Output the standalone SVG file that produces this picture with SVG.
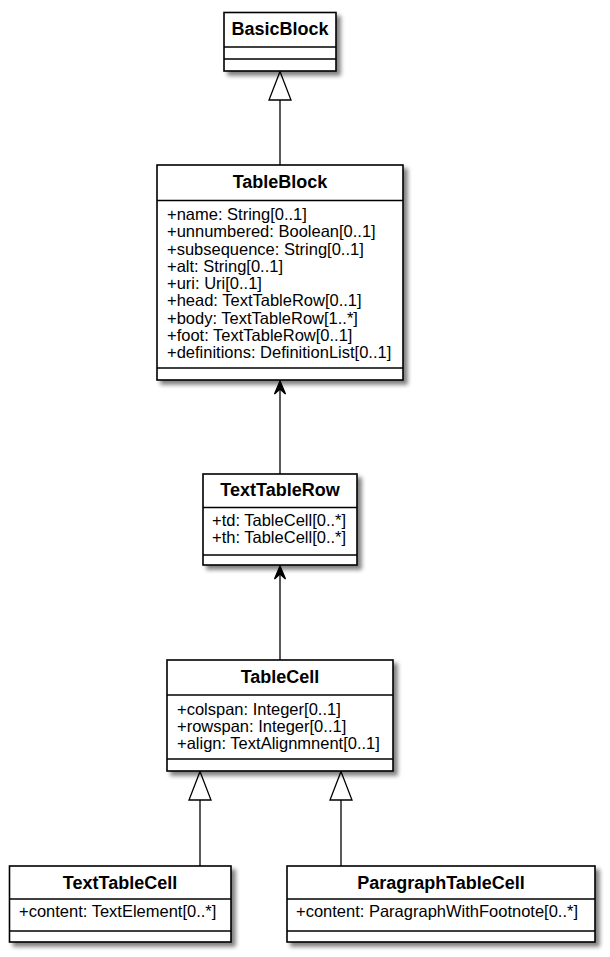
<svg xmlns="http://www.w3.org/2000/svg" width="610" height="957" viewBox="0 0 610 957">
<defs>
<filter id="sh" x="-10%" y="-10%" width="130%" height="130%">
<feGaussianBlur in="SourceAlpha" stdDeviation="2"/>
<feOffset dx="4" dy="4" result="b"/>
<feComponentTransfer in="b" result="c"><feFuncA type="linear" slope="0.5"/></feComponentTransfer>
<feMerge><feMergeNode in="c"/><feMergeNode in="SourceGraphic"/></feMerge>
</filter>
</defs>
<style>
.box{fill:#fff;stroke:#000;stroke-width:1.6;filter:url(#sh)}
.sep{stroke:#000;stroke-width:1.6}
.nm{font-family:"Liberation Sans",Arial,sans-serif;font-weight:bold;font-size:18px;text-anchor:middle;fill:#000}
.at{font-family:"Liberation Sans",Arial,sans-serif;font-size:16.5px;fill:#000}
.ln{stroke:#000;stroke-width:1.3;fill:none}
.tri{fill:#fff;stroke:#000;stroke-width:1.3}
.arr{fill:#000;stroke:#000;stroke-width:1.3}
</style>
<g id="connectors">
<line class="ln" x1="280" y1="100" x2="280" y2="165"/>
<polygon class="tri" points="280,71.5 269,100 291,100"/>
<line class="ln" x1="280" y1="382" x2="280" y2="474"/>
<polygon class="arr" points="280,381 274.5,394 280,389 285.5,394"/>
<line class="ln" x1="280" y1="567" x2="280" y2="660"/>
<polygon class="arr" points="280,566 274.5,579 280,574 285.5,579"/>
<line class="ln" x1="200" y1="800" x2="200" y2="866"/>
<polygon class="tri" points="200,771.5 189,800 211,800"/>
<line class="ln" x1="341" y1="800" x2="341" y2="866"/>
<polygon class="tri" points="341,771.5 330,800 352,800"/>
</g>
<g id="BasicBlock">
<rect class="box" x="224" y="12.5" width="112" height="58.5"/>
<line class="sep" x1="224" y1="47" x2="336" y2="47"/>
<line class="sep" x1="224" y1="59" x2="336" y2="59"/>
<text class="nm" x="280" y="35">BasicBlock</text>
</g>
<g id="TableBlock">
<rect class="box" x="157" y="165" width="246" height="215"/>
<line class="sep" x1="157" y1="200.5" x2="403" y2="200.5"/>
<line class="sep" x1="157" y1="368" x2="403" y2="368"/>
<text class="nm" x="280" y="188">TableBlock</text>
<text class="at" x="167" y="220">+name: String[0..1]</text>
<text class="at" x="167" y="237.25">+unnumbered: Boolean[0..1]</text>
<text class="at" x="167" y="254.5">+subsequence: String[0..1]</text>
<text class="at" x="167" y="271.75">+alt: String[0..1]</text>
<text class="at" x="167" y="289">+uri: Uri[0..1]</text>
<text class="at" x="167" y="306.25">+head: TextTableRow[0..1]</text>
<text class="at" x="167" y="323.5">+body: TextTableRow[1..*]</text>
<text class="at" x="167" y="340.75">+foot: TextTableRow[0..1]</text>
<text class="at" x="167" y="358">+definitions: DefinitionList[0..1]</text>
</g>
<g id="TextTableRow">
<rect class="box" x="203" y="474" width="154" height="91"/>
<line class="sep" x1="203" y1="507.5" x2="357" y2="507.5"/>
<line class="sep" x1="203" y1="555" x2="357" y2="555"/>
<text class="nm" x="280" y="496">TextTableRow</text>
<text class="at" x="212" y="526">+td: TableCell[0..*]</text>
<text class="at" x="212" y="543">+th: TableCell[0..*]</text>
</g>
<g id="TableCell">
<rect class="box" x="167" y="660" width="226" height="111"/>
<line class="sep" x1="167" y1="695" x2="393" y2="695"/>
<line class="sep" x1="167" y1="759" x2="393" y2="759"/>
<text class="nm" x="280" y="683">TableCell</text>
<text class="at" x="177" y="714.5">+colspan: Integer[0..1]</text>
<text class="at" x="177" y="731.75">+rowspan: Integer[0..1]</text>
<text class="at" x="177" y="749">+align: TextAlignmnent[0..1]</text>
</g>
<g id="TextTableCell">
<rect class="box" x="9.5" y="866" width="221.5" height="76"/>
<line class="sep" x1="9.5" y1="899" x2="231" y2="899"/>
<line class="sep" x1="9.5" y1="931" x2="231" y2="931"/>
<text class="nm" x="120" y="888.5">TextTableCell</text>
<text class="at" x="19" y="917">+content: TextElement[0..*]</text>
</g>
<g id="ParagraphTableCell">
<rect class="box" x="287" y="866" width="308" height="76"/>
<line class="sep" x1="287" y1="899" x2="595" y2="899"/>
<line class="sep" x1="287" y1="931" x2="595" y2="931"/>
<text class="nm" x="441" y="888.5">ParagraphTableCell</text>
<text class="at" x="296" y="917">+content: ParagraphWithFootnote[0..*]</text>
</g>
</svg>
